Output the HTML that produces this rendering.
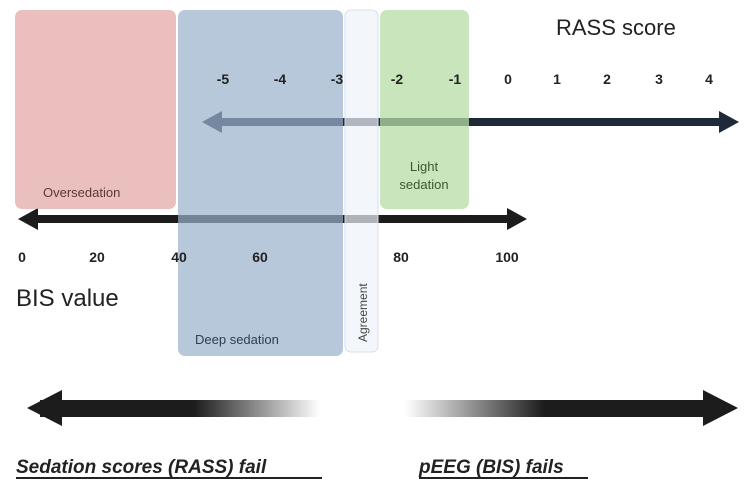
<!DOCTYPE html>
<html><head><style>
body{margin:0;background:#fff;width:751px;height:495px;overflow:hidden;font-family:"Liberation Sans",sans-serif}
</style></head><body>
<svg width="751" height="495" xmlns="http://www.w3.org/2000/svg" font-family="Liberation Sans, sans-serif">
<defs>
<linearGradient id="gl" x1="0" x2="1"><stop offset="0.55" stop-color="#1c1c1c"/><stop offset="1" stop-color="#1c1c1c" stop-opacity="0"/></linearGradient>
<linearGradient id="gr" x1="0" x2="1"><stop offset="0" stop-color="#1c1c1c" stop-opacity="0"/><stop offset="0.45" stop-color="#1c1c1c"/></linearGradient>
</defs>
<!-- arrows under boxes -->
<g fill="#1e2a38">
<rect x="215" y="118" width="510" height="8"/>
<polygon points="202,122 222,111 222,133"/>
<polygon points="739,122 719,111 719,133"/>
</g>
<g fill="#1c1c1c">
<rect x="30" y="215" width="485" height="8"/>
<polygon points="18,219 38,208 38,230"/>
<polygon points="527,219 507,208 507,230"/>
</g>
<!-- boxes -->
<rect x="15" y="10" width="161" height="199" rx="7" fill="#e6a9a9" fill-opacity="0.75"/>
<rect x="178" y="10" width="165" height="346" rx="7" fill="#98b0cc" fill-opacity="0.7"/>
<rect x="345" y="10" width="33" height="342" rx="6" fill="#eef3f9" fill-opacity="0.7" stroke="#d8e0ea"/>
<rect x="380" y="10" width="89" height="199" rx="7" fill="#b5dca5" fill-opacity="0.75"/>
<!-- labels -->
<text x="556" y="35" font-size="22" fill="#222">RASS score</text>
<g font-size="14" font-weight="bold" fill="#222" text-anchor="middle">
<text x="223" y="84">-5</text><text x="280" y="84">-4</text><text x="337" y="84">-3</text>
<text x="397" y="84">-2</text><text x="455" y="84">-1</text><text x="508" y="84">0</text>
<text x="557" y="84">1</text><text x="607" y="84">2</text><text x="659" y="84">3</text><text x="709" y="84">4</text>
<text x="22" y="262">0</text><text x="97" y="262">20</text><text x="179" y="262">40</text><text x="260" y="262">60</text>
<text x="401" y="262">80</text><text x="507" y="262">100</text>
</g>
<text x="16" y="306" font-size="24" fill="#222">BIS value</text>
<text x="43" y="197" font-size="13" fill="#5a3a3a">Oversedation</text>
<text x="195" y="344" font-size="13" fill="#2f3e52">Deep sedation</text>
<text x="424" y="171" font-size="13" fill="#3a5a32" text-anchor="middle">Light</text>
<text x="424" y="189" font-size="13" fill="#3a5a32" text-anchor="middle">sedation</text>
<text transform="translate(367,342) rotate(-90)" font-size="12" fill="#444">Agreement</text>
<!-- bottom arrows -->
<rect x="40" y="400" width="280" height="17" fill="url(#gl)"/>
<polygon points="27,408 62,390 62,426" fill="#1c1c1c"/>
<rect x="405" y="400" width="310" height="17" fill="url(#gr)"/>
<polygon points="738,408 703,390 703,426" fill="#1c1c1c"/>
<g font-size="19" font-weight="bold" font-style="italic" fill="#222">
<text x="16" y="473">Sedation scores (RASS) fail</text>
<text x="419" y="473">pEEG (BIS) fails</text>
</g>
<rect x="16" y="477" width="306" height="2" fill="#222"/>
<rect x="419" y="477" width="169" height="2" fill="#222"/>
</svg>
</body></html>
